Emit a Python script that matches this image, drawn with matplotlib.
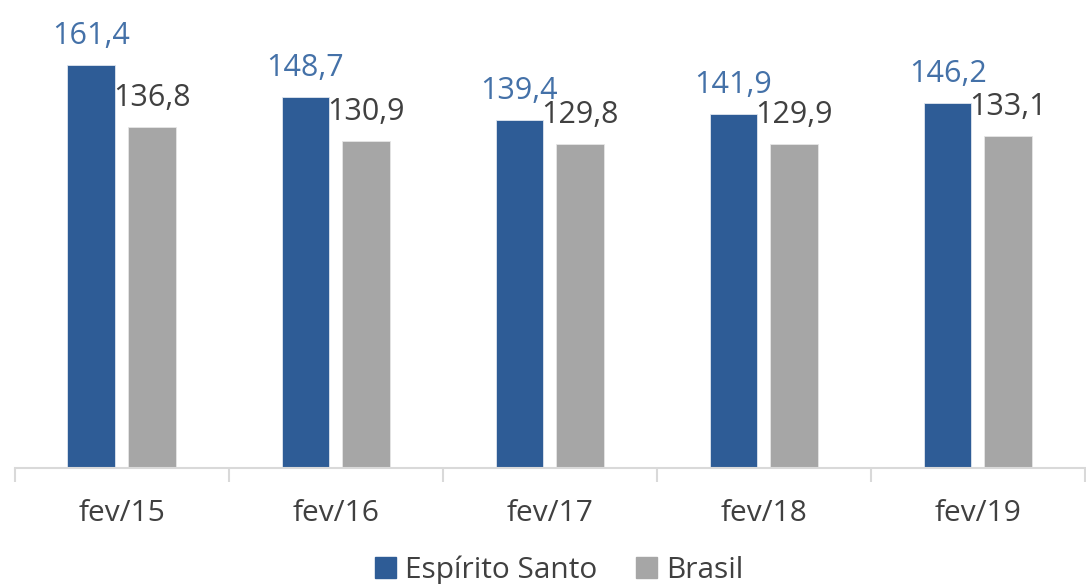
import matplotlib.pyplot as plt
import numpy as np
from matplotlib.patches import Patch

categories = ["fev/15", "fev/16", "fev/17", "fev/18", "fev/19"]
espirito_santo = [161.4, 148.7, 139.4, 141.9, 146.2]
brasil = [136.8, 130.9, 129.8, 129.9, 133.1]

c_es = "#2E5C96"
c_br = "#A6A6A6"
c_es_lab = "#4471A8"
c_br_lab = "#404040"

plt.rcParams["font.family"] = ["Open Sans", "DejaVu Sans"]

fig = plt.figure(figsize=(10.86, 5.84), dpi=100)
ax = fig.add_axes([14.7 / 1086, 116 / 584, (1085 - 14.7) / 1086, 468 / 584])

x = np.arange(len(categories))
w = 0.223
off = 0.142
b1 = ax.bar(x - off, espirito_santo, w, color=c_es, edgecolor="#dfe6ef", linewidth=0.6)
b2 = ax.bar(x + off, brasil, w, color=c_br, edgecolor="#e6e6e6", linewidth=0.6)

for rect, v in zip(b1, espirito_santo):
    ax.annotate(f"{v:.1f}".replace(".", ","), (rect.get_x() + rect.get_width() / 2, v),
                xytext=(0, 15), textcoords="offset points", ha="center", va="baseline",
                fontsize=22, color=c_es_lab)
for rect, v in zip(b2, brasil):
    ax.annotate(f"{v:.1f}".replace(".", ","), (rect.get_x() + rect.get_width() / 2, v),
                xytext=(0, 15), textcoords="offset points", ha="center", va="baseline",
                fontsize=22, color=c_br_lab)

ax.set_xlim(-0.5, len(categories) - 0.5)
ax.set_ylim(0, 187.5)
ax.set_yticks([])
for s in ["top", "right", "left"]:
    ax.spines[s].set_visible(False)
ax.spines["bottom"].set_color("#D9D9D9")
ax.spines["bottom"].set_linewidth(1.5)

ax.set_xticks(np.arange(len(categories) + 1) - 0.5, minor=False)
ax.set_xticklabels([])
ax.tick_params(axis="x", which="major", length=10, width=1.5, color="#D9D9D9")
ax.set_xticks(x, minor=True)
ax.set_xticklabels(categories, minor=True, fontsize=21.5, color="#404040")
ax.tick_params(axis="x", which="minor", length=0, pad=22)

handles = [Patch(color=c_es, label="Espírito Santo"), Patch(color=c_br, label="Brasil")]
fig.legend(handles=handles, loc="center", bbox_to_anchor=(559 / 1086, 1 - 570 / 584),
           ncol=2, frameon=False, fontsize=21.5, handlelength=0.7, handleheight=0.7,
           handletextpad=0.3, columnspacing=1.3, labelcolor="#404040")

fig.savefig("out.png", dpi=100)
